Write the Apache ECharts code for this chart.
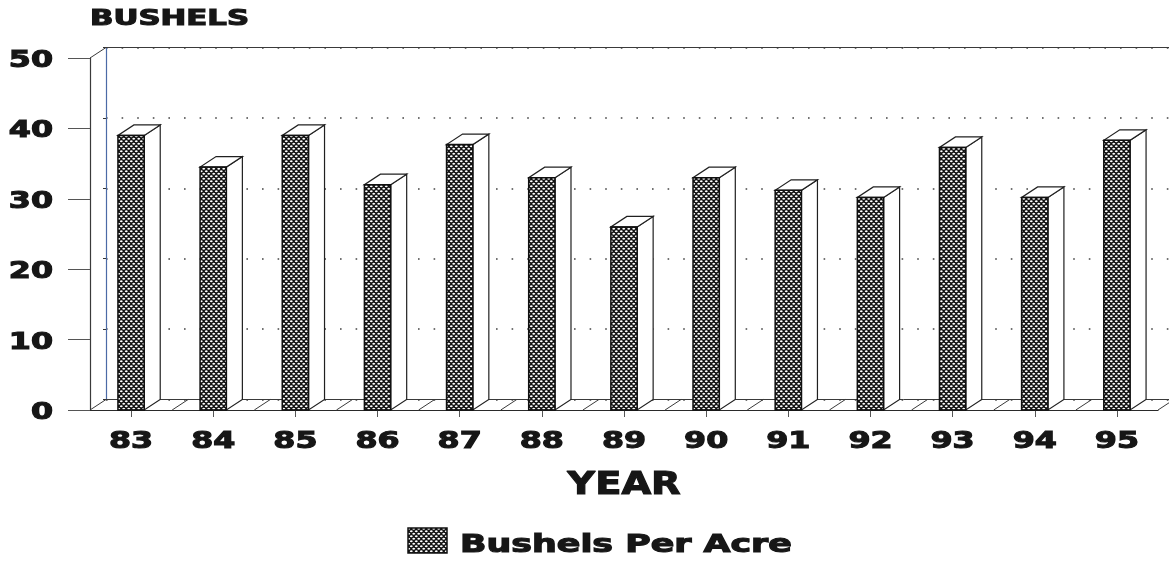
<!DOCTYPE html>
<html>
<head>
<meta charset="utf-8">
<script src="https://cdn.jsdelivr.net/npm/echarts@6/dist/echarts.min.js"></script>
<style>
  html, body { margin: 0; padding: 0; background: #fff; }
  #chart { width: 1169px; height: 563px; }
</style>
</head>
<body>
<div id="chart"></div>
<script>
// Bushels harvested per acre, crop years 1983-1995
const years = ['83', '84', '85', '86', '87', '88', '89', '90', '91', '92', '93', '94', '95'];
const bushels = [39.0, 34.5, 39.0, 32.0, 37.7, 33.0, 26.0, 33.0, 31.2, 30.2, 37.3, 30.2, 38.3];
const yTicks = [0, 10, 20, 30, 40, 50];
const seriesName = 'Bushels Per Acre';
const yTitle = 'BUSHELS';
const xTitle = 'YEAR';

// pseudo-3D depth offset (px) of the back wall relative to the front plane
const DX = 16, DY = -10.5;
const BAR_RATIO = 0.32;
const FONT = '"DejaVu Sans", "Liberation Sans", Arial, sans-serif';
const INK = '#161616';

// cross-hatch mesh used on the bar fronts and the legend swatch
function meshPattern() {
  const c = document.createElement('canvas');
  c.width = 5; c.height = 5;
  const g = c.getContext('2d');
  g.fillStyle = '#101010';
  g.fillRect(0, 0, 5, 5);
  g.fillStyle = '#ffffff';
  const holes = [[1.25, 1.25], [3.75, 3.75], [-1.25, 3.75], [6.25, 3.75], [3.75, -1.25], [3.75, 6.25], [1.25, 6.25], [6.25, 1.25]];
  holes.forEach(([x, y]) => {
    g.beginPath();
    g.ellipse(x, y, 1.45, 0.95, 0, 0, Math.PI * 2);
    g.fill();
  });
  return { image: c, repeat: 'repeat' };
}
const mesh = meshPattern();

function boldText(text, x, y, size, scaleX, align) {
  return {
    type: 'text', x: x, y: y, scaleX: scaleX,
    style: {
      text: text, x: 0, y: 0, align: align, verticalAlign: 'middle',
      fontSize: size, fontWeight: 'bold', fontFamily: FONT,
      fill: INK, stroke: INK, lineWidth: 1.1
    }
  };
}

// 3D bar: side face, top face and meshed front face
function renderBar(params, api) {
  const i = api.value(0), v = api.value(1);
  const top = api.coord([i, v]);
  const base = api.coord([i, 0]);
  const w = api.size([1, 0])[0] * BAR_RATIO;
  const x0 = top[0] - w / 2, x1 = top[0] + w / 2;
  const yT = top[1], yB = base[1];
  const edge = { stroke: '#202020', lineWidth: 1.2, fill: '#ffffff' };
  return {
    type: 'group',
    children: [
      { type: 'polygon', shape: { points: [[x1, yT], [x1 + DX, yT + DY], [x1 + DX, yB + DY], [x1, yB]] }, style: edge },
      { type: 'polygon', shape: { points: [[x0, yT], [x1, yT], [x1 + DX, yT + DY], [x0 + DX, yT + DY]] }, style: edge },
      { type: 'rect', shape: { x: x0, y: yT, width: w, height: yB - yT }, style: { fill: mesh, stroke: '#101010', lineWidth: 1.5 } }
    ]
  };
}

// floor divisions at category boundaries plus the left wall's corner edges
function renderFloor(params, api) {
  const i = api.value(0);
  const c = api.coord([i, 0]);
  const band = api.size([1, 0])[0];
  const line = { stroke: '#3a3a3a', lineWidth: 1 };
  const xs = [c[0] - band / 2];
  if (i === years.length - 1) xs.push(c[0] + band / 2);
  const children = xs.map(x => ({ type: 'line', shape: { x1: x, y1: c[1], x2: x + DX, y2: c[1] + DY }, style: line }));
  if (i === 0) {
    const t = api.coord([i, yTicks[yTicks.length - 1]]);
    const xl = c[0] - band / 2;
    children.push({ type: 'line', shape: { x1: xl, y1: t[1], x2: xl + DX, y2: t[1] + DY }, style: line });
  }
  return { type: 'group', children: children };
}

function renderYearLabel(params, api) {
  const c = api.coord([api.value(0), 0]);
  return boldText(years[params.dataIndex], c[0], c[1] + 32, 23, 1.38, 'center');
}

function renderValueLabel(params, api) {
  const v = api.value(1);
  const c = api.coord([0, v]);
  const band = api.size([1, 0])[0];
  return boldText(String(v), c[0] - band / 2 - 37, c[1] + 3, 23, 1.38, 'right');
}

const chart = echarts.init(document.getElementById('chart'), null, { renderer: 'canvas' });
chart.setOption({
  backgroundColor: '#ffffff',
  animation: false,
  grid: [
    { left: 90, right: 11, top: 58, bottom: 153 },
    { left: 90 + DX, right: 11 - DX, top: 58 + DY, bottom: 153 - DY }
  ],
  xAxis: [
    {
      type: 'category', gridIndex: 0, data: years, boundaryGap: true,
      axisLine: { show: true, lineStyle: { color: '#2a2a2a', width: 1.2 } },
      axisTick: { show: true, alignWithLabel: true, length: 7, lineStyle: { color: '#555' } },
      axisLabel: { show: false }, splitLine: { show: false }
    },
    {
      type: 'category', gridIndex: 1, data: years, boundaryGap: true,
      axisLine: { show: true, lineStyle: { color: '#3a3a3a', width: 1 } },
      axisTick: { show: false }, axisLabel: { show: false }, splitLine: { show: false }
    },
    {
      type: 'category', gridIndex: 1, data: years, position: 'top', boundaryGap: true,
      axisLine: { show: true, lineStyle: { color: '#3a3a3a', width: 1 } },
      axisTick: { show: false }, axisLabel: { show: false }, splitLine: { show: false }
    }
  ],
  yAxis: [
    {
      type: 'value', gridIndex: 0, min: 0, max: 50, interval: 10,
      axisLine: { show: true, lineStyle: { color: '#3a3a3a', width: 1.2 } },
      axisTick: { show: true, length: 22, lineStyle: { color: '#555', width: 1 } },
      axisLabel: { show: false }, splitLine: { show: false }
    },
    {
      type: 'value', gridIndex: 1, min: 0, max: 50, interval: 10,
      axisLine: { show: true, lineStyle: { color: '#4b6aa6', width: 1.2 } },
      axisTick: { show: true, length: 3, lineStyle: { color: '#333' } },
      axisLabel: { show: false },
      splitLine: { show: true, lineStyle: { color: '#444', width: 1.6, type: [1.6, 14] } }
    }
  ],
  series: [
    {
      name: 'floor', type: 'custom', xAxisIndex: 0, yAxisIndex: 0, z: 1, clip: false, silent: true,
      renderItem: renderFloor, data: years.map((y, i) => [i, 0])
    },
    {
      name: seriesName, type: 'custom', xAxisIndex: 0, yAxisIndex: 0, z: 3, clip: false,
      renderItem: renderBar, encode: { x: 0, y: 1 },
      data: bushels.map((v, i) => [i, v])
    },
    {
      name: 'years', type: 'custom', xAxisIndex: 0, yAxisIndex: 0, z: 4, clip: false, silent: true,
      renderItem: renderYearLabel, data: years.map((y, i) => [i, 0])
    },
    {
      name: 'ticks', type: 'custom', xAxisIndex: 0, yAxisIndex: 0, z: 4, clip: false, silent: true,
      renderItem: renderValueLabel, data: yTicks.map(v => [0, v])
    }
  ],
  graphic: [
    boldText(yTitle, 90, 20, 20.5, 1.5, 'left'),
    boldText(xTitle, 624, 486, 32, 1.2, 'center'),
    {
      type: 'rect', shape: { x: 408, y: 528, width: 39, height: 25 },
      style: { fill: mesh, stroke: '#111', lineWidth: 1.5 }
    },
    boldText(seriesName, 460, 546, 24, 1.45, 'left')
  ]
});
</script>
</body>
</html>
